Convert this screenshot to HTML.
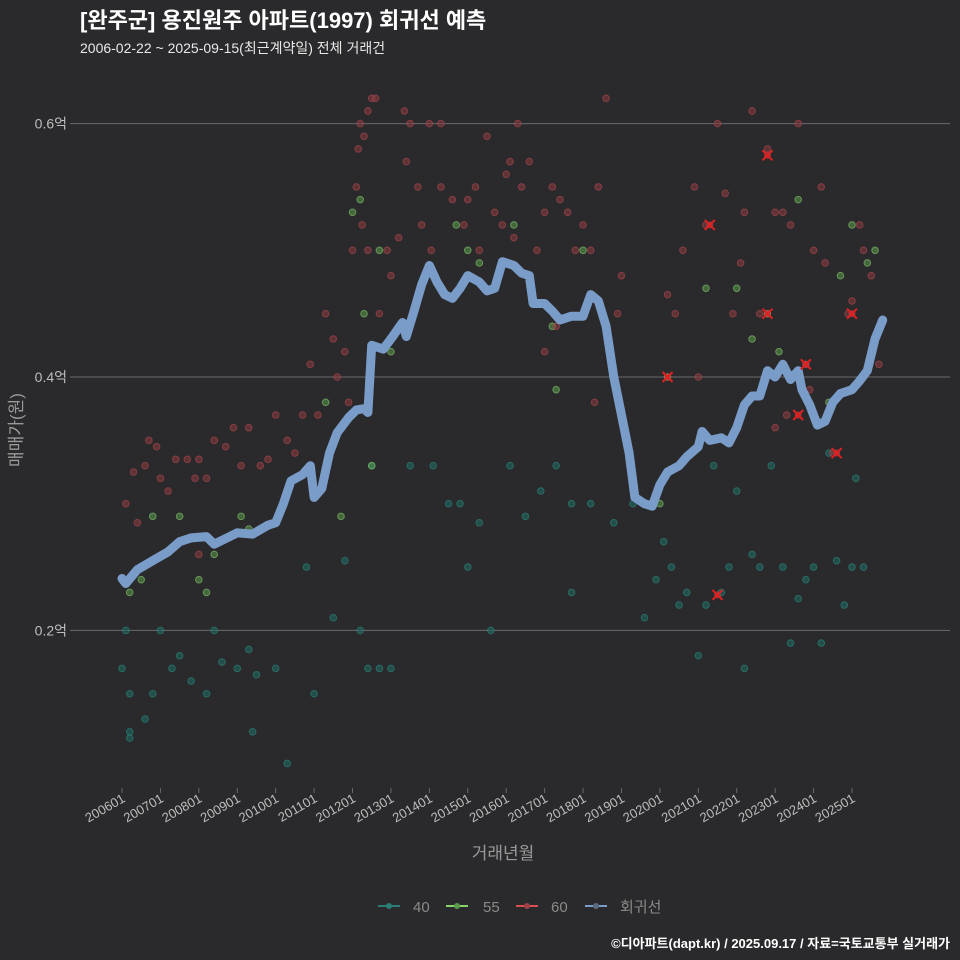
<!DOCTYPE html>
<html><head><meta charset="utf-8">
<style>
html,body{margin:0;padding:0;background:#2a2a2c;}
svg{display:block;font-family:"Liberation Sans","Noto Sans CJK KR",sans-serif;}
</style></head>
<body>
<svg id="chart" width="960" height="960" viewBox="0 0 960 960" xmlns="http://www.w3.org/2000/svg">
<rect x="0" y="0" width="960" height="960" fill="#2a2a2c"/>
<text x="80" y="28" font-size="22" font-weight="bold" fill="#ffffff">[완주군] 용진원주 아파트(1997) 회귀선 예측</text>
<text x="80" y="53" font-size="14" fill="#e8e8e8">2006-02-22 ~ 2025-09-15(최근계약일) 전체 거래건</text>
<g id="grid"></g>
<g id="points"></g>
<g id="line"></g>
<g id="marks"></g>
<g id="xaxis"></g>
<text x="503" y="859" font-size="17" fill="#9a9a9a" text-anchor="middle">거래년월</text>
<text transform="translate(22,430) rotate(-90)" font-size="17" fill="#9a9a9a" text-anchor="middle">매매가(원)</text>
<g>
<g><line x1="378" y1="906" x2="400" y2="906" stroke="#2a7d74" stroke-width="2"/><circle cx="389" cy="906" r="3" fill="#2a7d74"/><text x="413" y="912" font-size="15" fill="#8a8a8a">40</text></g>
<g><line x1="446" y1="906" x2="468" y2="906" stroke="#86d46a" stroke-width="2"/><circle cx="457" cy="906" r="3" fill="#5a9a4a"/><text x="483" y="912" font-size="15" fill="#8a8a8a">55</text></g>
<g><line x1="516" y1="906" x2="538" y2="906" stroke="#d9504f" stroke-width="2"/><circle cx="527" cy="906" r="3" fill="#a04048"/><text x="551" y="912" font-size="15" fill="#8a8a8a">60</text></g>
<g><line x1="585" y1="906" x2="607" y2="906" stroke="#7a9cc8" stroke-width="2"/><circle cx="596" cy="906" r="3" fill="#5a6a80"/><text x="620" y="912" font-size="15" fill="#8a8a8a">회귀선</text></g>
</g>
<text x="950" y="948" font-size="13" font-weight="bold" fill="#ffffff" text-anchor="end">©디아파트(dapt.kr) / 2025.09.17 / 자료=국토교통부 실거래가</text>
</svg>
<script>
const yTicks=[0.2,0.4,0.6];
const yTickLabels=["0.2억","0.4억","0.6억"];
const xTicks=[2006,2007,2008,2009,2010,2011,2012,2013,2014,2015,2016,2017,2018,2019,2020,2021,2022,2023,2024,2025];
const xTickLabels=["200601","200701","200801","200901","201001","201101","201201","201301","201401","201501","201601","201701","201801","201901","202001","202101","202201","202301","202401","202501"];
const line=[[2006.0,0.241],[2006.1,0.237],[2006.4,0.248],[2006.8,0.255],[2007.2,0.262],[2007.5,0.27],[2007.8,0.273],[2008.2,0.274],[2008.4,0.268],[2008.8,0.274],[2009.0,0.277],[2009.4,0.276],[2009.8,0.283],[2010.0,0.285],[2010.2,0.30],[2010.4,0.318],[2010.7,0.323],[2010.9,0.33],[2011.0,0.305],[2011.2,0.312],[2011.4,0.34],[2011.6,0.356],[2011.9,0.368],[2012.1,0.374],[2012.3,0.375],[2012.4,0.372],[2012.5,0.425],[2012.8,0.422],[2013.0,0.43],[2013.3,0.443],[2013.4,0.432],[2013.6,0.452],[2013.8,0.473],[2014.0,0.488],[2014.2,0.475],[2014.4,0.465],[2014.6,0.462],[2014.8,0.47],[2015.0,0.48],[2015.3,0.475],[2015.5,0.468],[2015.7,0.47],[2015.9,0.491],[2016.2,0.488],[2016.4,0.482],[2016.6,0.48],[2016.7,0.458],[2017.0,0.458],[2017.2,0.452],[2017.4,0.445],[2017.7,0.448],[2018.0,0.448],[2018.2,0.465],[2018.4,0.46],[2018.6,0.44],[2018.8,0.40],[2019.0,0.37],[2019.2,0.34],[2019.35,0.305],[2019.6,0.30],[2019.8,0.298],[2020.0,0.315],[2020.2,0.325],[2020.5,0.33],[2020.7,0.337],[2021.0,0.345],[2021.1,0.357],[2021.3,0.35],[2021.6,0.352],[2021.8,0.348],[2022.0,0.36],[2022.2,0.378],[2022.4,0.385],[2022.6,0.385],[2022.8,0.405],[2023.0,0.40],[2023.2,0.41],[2023.4,0.398],[2023.6,0.405],[2023.7,0.39],[2023.9,0.378],[2024.1,0.362],[2024.3,0.365],[2024.5,0.38],[2024.7,0.387],[2025.0,0.39],[2025.2,0.397],[2025.4,0.405],[2025.6,0.43],[2025.8,0.445]];
const pts60=[[2006.1,0.30],[2006.3,0.325],[2006.4,0.285],[2006.6,0.33],[2006.7,0.35],[2006.9,0.345],[2007.0,0.32],[2007.2,0.31],[2007.4,0.335],[2007.7,0.335],[2007.9,0.32],[2008.0,0.335],[2008.2,0.32],[2008.4,0.35],[2008.7,0.345],[2008.9,0.36],[2009.1,0.33],[2009.3,0.36],[2009.6,0.33],[2009.8,0.335],[2010.0,0.37],[2010.3,0.35],[2010.5,0.34],[2010.7,0.37],[2010.9,0.41],[2011.1,0.37],[2011.3,0.45],[2011.5,0.43],[2011.6,0.40],[2011.8,0.42],[2011.9,0.38],[2012.0,0.50],[2012.1,0.55],[2012.15,0.58],[2012.2,0.60],[2012.3,0.59],[2012.4,0.61],[2012.5,0.62],[2012.6,0.62],[2012.25,0.52],[2012.4,0.50],[2012.7,0.45],[2012.9,0.50],[2013.0,0.48],[2013.2,0.51],[2013.35,0.61],[2013.5,0.60],[2013.4,0.57],[2013.7,0.55],[2013.8,0.52],[2014.0,0.60],[2014.3,0.60],[2014.05,0.50],[2014.3,0.55],[2014.6,0.54],[2014.9,0.52],[2015.0,0.54],[2015.2,0.55],[2015.3,0.50],[2015.5,0.59],[2015.7,0.53],[2015.9,0.52],[2016.0,0.56],[2016.1,0.57],[2016.3,0.60],[2016.4,0.55],[2016.2,0.51],[2016.6,0.57],[2016.8,0.50],[2017.0,0.53],[2017.2,0.55],[2017.4,0.54],[2017.0,0.42],[2017.3,0.44],[2017.6,0.53],[2017.8,0.50],[2018.0,0.52],[2018.2,0.50],[2018.4,0.55],[2018.6,0.62],[2018.3,0.38],[2018.9,0.45],[2019.0,0.48],[2020.2,0.465],[2020.4,0.45],[2020.6,0.50],[2020.9,0.55],[2021.0,0.40],[2021.2,0.52],[2021.5,0.60],[2021.7,0.545],[2021.9,0.45],[2022.1,0.49],[2022.2,0.53],[2022.4,0.61],[2022.6,0.45],[2022.8,0.58],[2023.0,0.53],[2023.2,0.53],[2023.4,0.52],[2023.6,0.60],[2023.8,0.41],[2023.9,0.39],[2024.0,0.50],[2024.2,0.55],[2024.3,0.49],[2024.5,0.34],[2024.9,0.45],[2025.0,0.46],[2025.2,0.52],[2025.3,0.50],[2025.5,0.48],[2025.7,0.41],[2023.0,0.36],[2023.3,0.37],[2008.0,0.26]];
const pts55=[[2006.2,0.23],[2006.5,0.24],[2006.8,0.29],[2007.5,0.29],[2009.1,0.29],[2009.3,0.28],[2011.3,0.38],[2011.7,0.29],[2012.0,0.53],[2012.2,0.54],[2012.3,0.45],[2012.5,0.33],[2012.7,0.50],[2013.0,0.42],[2014.7,0.52],[2015.0,0.50],[2015.3,0.49],[2016.2,0.52],[2017.2,0.44],[2017.3,0.39],[2018.0,0.50],[2020.0,0.30],[2020.2,0.40],[2021.2,0.47],[2022.0,0.47],[2022.4,0.43],[2022.8,0.45],[2023.1,0.42],[2023.6,0.54],[2024.4,0.38],[2024.7,0.48],[2025.0,0.52],[2025.4,0.49],[2025.6,0.50],[2008.2,0.23],[2008.4,0.26],[2008.0,0.24]];
const pts40=[[2006.0,0.17],[2006.1,0.20],[2006.2,0.15],[2006.2,0.12],[2006.2,0.115],[2006.6,0.13],[2006.8,0.15],[2007.0,0.20],[2007.3,0.17],[2007.5,0.18],[2007.8,0.16],[2008.2,0.15],[2008.4,0.20],[2008.6,0.175],[2009.0,0.17],[2009.3,0.185],[2009.4,0.12],[2009.5,0.165],[2010.0,0.17],[2010.3,0.095],[2010.8,0.25],[2011.0,0.15],[2011.5,0.21],[2011.8,0.255],[2012.2,0.20],[2012.4,0.17],[2012.5,0.33],[2012.7,0.17],[2013.0,0.17],[2013.5,0.33],[2014.1,0.33],[2014.5,0.30],[2014.8,0.30],[2015.0,0.25],[2015.3,0.285],[2015.6,0.20],[2016.1,0.33],[2016.5,0.29],[2016.9,0.31],[2017.3,0.33],[2017.7,0.23],[2017.7,0.30],[2018.2,0.30],[2018.8,0.285],[2019.3,0.30],[2019.6,0.21],[2019.9,0.24],[2020.1,0.27],[2020.3,0.25],[2020.5,0.22],[2020.7,0.23],[2021.0,0.18],[2021.2,0.22],[2021.4,0.33],[2021.6,0.23],[2021.8,0.25],[2022.0,0.31],[2022.2,0.17],[2022.4,0.26],[2022.6,0.25],[2022.9,0.33],[2023.2,0.25],[2023.4,0.19],[2023.6,0.225],[2023.8,0.24],[2024.0,0.25],[2024.2,0.19],[2024.4,0.34],[2024.6,0.255],[2024.8,0.22],[2025.0,0.25],[2025.1,0.32],[2025.3,0.25]];
const highlights=[[2020.2,0.40],[2021.3,0.52],[2021.5,0.228],[2022.8,0.575],[2022.8,0.45],[2023.6,0.37],[2023.8,0.41],[2024.6,0.34],[2025.0,0.45]];

const NS="http://www.w3.org/2000/svg";
function xs(t){return 122+(t-2006)*38.42;}
function ys(v){return 377-(v-0.4)*1267;}
function mk(tag,attrs,parent){const e=document.createElementNS(NS,tag);for(const k in attrs)e.setAttribute(k,attrs[k]);parent.appendChild(e);return e;}
const grid=document.getElementById('grid');
yTicks.forEach((v,i)=>{
  const l=mk('line',{x1:75,x2:950,y1:ys(v),y2:ys(v),stroke:'#6a6a6a','stroke-width':1},grid);
  
  
  const tk=mk('line',{x1:70,x2:75,y1:ys(v),y2:ys(v),stroke:'#6a6a6a'},grid);
  
  
  const t=mk('text',{x:67,y:ys(v)+5,'font-size':14,fill:'#bdbdbd','text-anchor':'end'},grid);
  
  
  t.textContent=yTickLabels[i];
});
const xa=document.getElementById('xaxis');
xTicks.forEach((t,i)=>{
  const x=xs(t);
  const tk=mk('line',{x1:x,x2:x,y1:788,y2:793,stroke:'#6a6a6a'},xa);
  
  
  const tx=mk('text',{x:0,y:0,'font-size':13,fill:'#bdbdbd','text-anchor':'end',transform:`translate(${x+4},${801}) rotate(-30)`},xa);
  
  
  tx.textContent=xTickLabels[i];
});
const pg=document.getElementById('points');
function drawPts(arr,fill,stroke,name){
  arr.forEach(p=>{
    const c=mk('circle',{cx:xs(p[0]),cy:ys(p[1]),r:3.3,fill:fill,stroke:stroke,'stroke-width':1,'fill-opacity':0.55,'stroke-opacity':0.6},pg);
    
    
  });
}
drawPts(pts40,'#1f6b64','#2a8a80','point-40');
drawPts(pts55,'#5a9a4a','#86c870','point-55');
drawPts(pts60,'#8a3a40','#b04a50','point-60');
const lg=document.getElementById('line');
const path=mk('path',{d:line.map((p,i)=>(i?'L':'M')+xs(p[0]).toFixed(1)+','+ys(p[1]).toFixed(1)).join(''),fill:'none',stroke:'#7a9cc8','stroke-width':9,'stroke-linejoin':'round','stroke-linecap':'round'},lg);


const mg=document.getElementById('marks');
highlights.forEach(p=>{
  const x=xs(p[0]),y=ys(p[1]);
  const g=mk('g',{},mg);
  
  
  mk('circle',{cx:x,cy:y,r:3.5,fill:'#c04048','fill-opacity':0.7},g);
  mk('path',{d:`M${x-5},${y-5}L${x+5},${y+5}M${x-5},${y+5}L${x+5},${y-5}`,stroke:'#e02020','stroke-width':2},g);
});
</script>
</body></html>
